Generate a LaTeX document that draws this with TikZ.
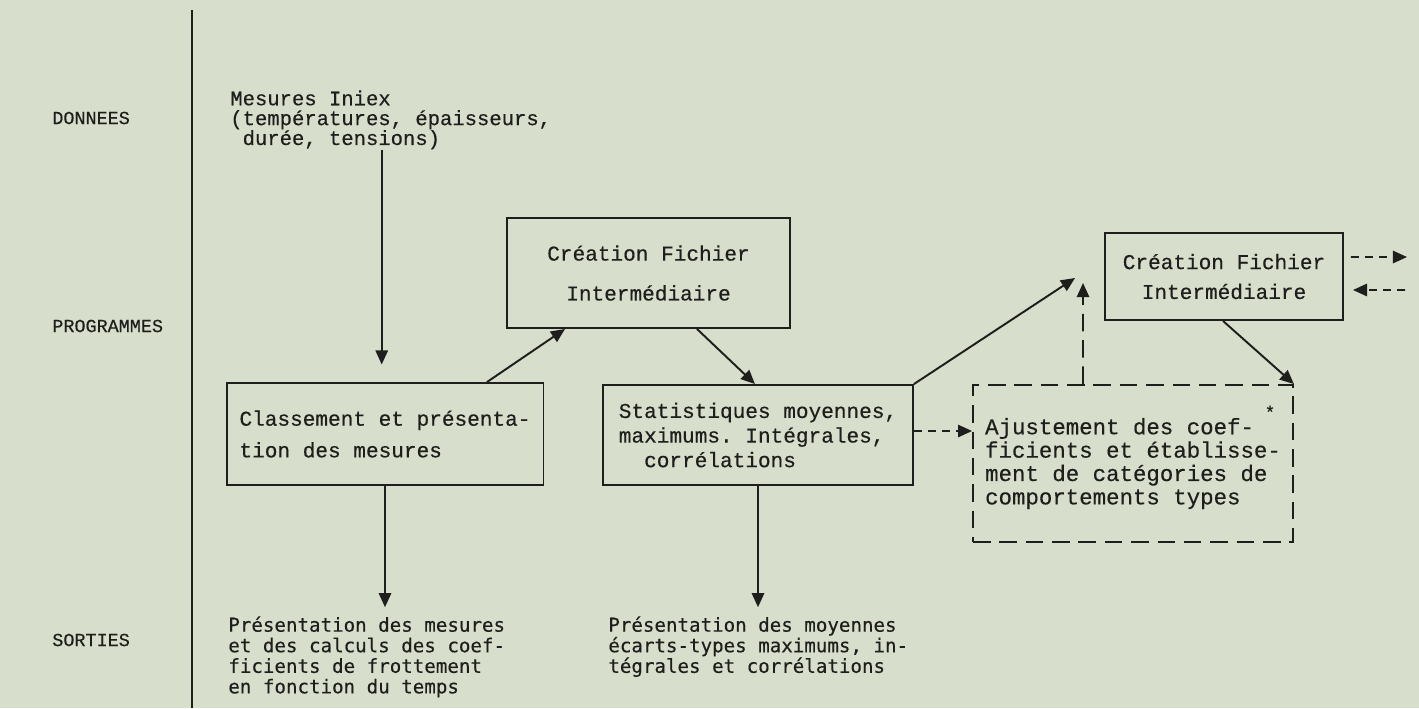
\documentclass[tikz,border=0pt]{standalone}
\usepackage{fontspec}
\setmonofont[FakeBold=0.4]{Liberation Mono}
\newfontfamily\gothic[FakeBold=0.3]{DejaVu Sans Mono}
\usetikzlibrary{arrows.meta}
\definecolor{paper}{RGB}{216,222,204}
\definecolor{ink}{RGB}{30,30,28}

\begin{document}
\begin{tikzpicture}[x=0.02cm, y=-0.02cm, >={Triangle[length=8pt,width=7pt]},
    every node/.style={text=ink, inner sep=0pt},
    side/.style={anchor=west, font=\ttfamily\fontsize{10.5}{12}\selectfont},
    note/.style={anchor=north west, align=left},
    prog/.style={draw=ink, line width=1.1pt, align=left},
    planned/.style={prog, dash pattern=on 10pt off 5pt},
    arr/.style={->, draw=ink, line width=1.1pt},
    darr/.style={arr, dash pattern=on 4.5pt off 3.5pt}]
  \fill[paper] (0,0) rectangle (1419,708);
  \useasboundingbox (0,0) rectangle (1419,708);
  % titres des lignes
  \draw[ink, line width=1pt] (192,10) -- (192,708);
  \node[side] (donnees) at (52,118) {DONNEES};
  \node[side] (programmes) at (52,326) {PROGRAMMES};
  \node[side] (sorties) at (52,640) {SORTIES};
  % donnees
  \node[note, font=\ttfamily\fontsize{11.7}{11.3}\selectfont] (mesures) at (230,90)
    {Mesures Iniex\\(températures, épaisseurs,\\~durée, tensions)};
  % programmes
  \node[prog, minimum width=5.66cm, minimum height=2.2cm, align=center,
    font=\ttfamily\fontsize{12}{22.7}\selectfont] (fichierA) at (648.5,273)
    {Création Fichier\\Intermédiaire};
  \node[prog, minimum width=6.34cm, minimum height=2.04cm,
    font=\ttfamily\fontsize{12}{18}\selectfont] (classement) at (385,434)
    {Classement et présenta-\\tion des mesures};
  \node[prog, minimum width=6.2cm, minimum height=2cm,
    font=\ttfamily\fontsize{12}{14}\selectfont] (stats) at (758,435)
    {Statistiques moyennes,\\maximums. Intégrales,\\~~corrélations};
  \node[planned, minimum width=6.4cm, minimum height=3.14cm,
    font=\ttfamily\fontsize{12.75}{13.3}\selectfont] (ajust) at (1133,463.5)
    {Ajustement des coef-\\ficients et établisse-\\ment de catégories de\\comportements types};
  \node[font=\ttfamily\normalsize] (etoile) at (1270,412) {*};
  \node[prog, minimum width=4.76cm, minimum height=1.74cm, align=center,
    font=\ttfamily\fontsize{12}{17}\selectfont] (fichierB) at (1224,276.5)
    {Création Fichier\\Intermédiaire};
  % sorties
  \node[note, font=\gothic\fontsize{10.9}{11.7}\selectfont] (sortieA) at (228,616)
    {Présentation des mesures\\et des calculs des coef-\\ficients de frottement\\en fonction du temps};
  \node[note, font=\gothic\fontsize{10.9}{11.7}\selectfont] (sortieB) at (608,616)
    {Présentation des moyennes\\écarts-types maximums, in-\\tégrales et corrélations};
  % fleches
  \draw[arr, shorten >=10pt] ([xshift=-0.18cm]mesures.south)
    -- ([xshift=-0.18cm]mesures.south |- classement.north);
  \draw[arr] ([xshift=2.04cm]classement.north) -- ([xshift=-1.67cm]fichierA.south);
  \draw[arr] ([xshift=0.97cm]fichierA.south) -- ([xshift=-0.06cm]stats.north);
  \coordinate (versB) at (1075,278);
  \draw[arr] (stats.north east) -- (versB);
  \coordinate (retourB) at (1083,283);
  \draw[arr, dash pattern=on 10pt off 5pt] ([xshift=-1cm]ajust.north) -- (retourB);
  \draw[darr] ([yshift=0.08cm]stats.east) -- ([yshift=0.08cm]ajust.west |- stats.east);
  \draw[arr] ([xshift=-0.02cm]fichierB.south) -- (ajust.north east);
  \coordinate (suiteB) at (1407,257);
  \draw[darr] ([xshift=0.14cm, yshift=0.39cm]fichierB.east) -- (suiteB);
  \coordinate (rappelB) at (1405,290);
  \draw[darr] (rappelB) -- ([xshift=0.18cm, yshift=-0.27cm]fichierB.east);
  \draw[arr, shorten >=5pt] (classement.south) -- (classement.south |- sortieA.north);
  \draw[arr, shorten >=5pt] (stats.south) -- (stats.south |- sortieB.north);
\end{tikzpicture}
\end{document}
